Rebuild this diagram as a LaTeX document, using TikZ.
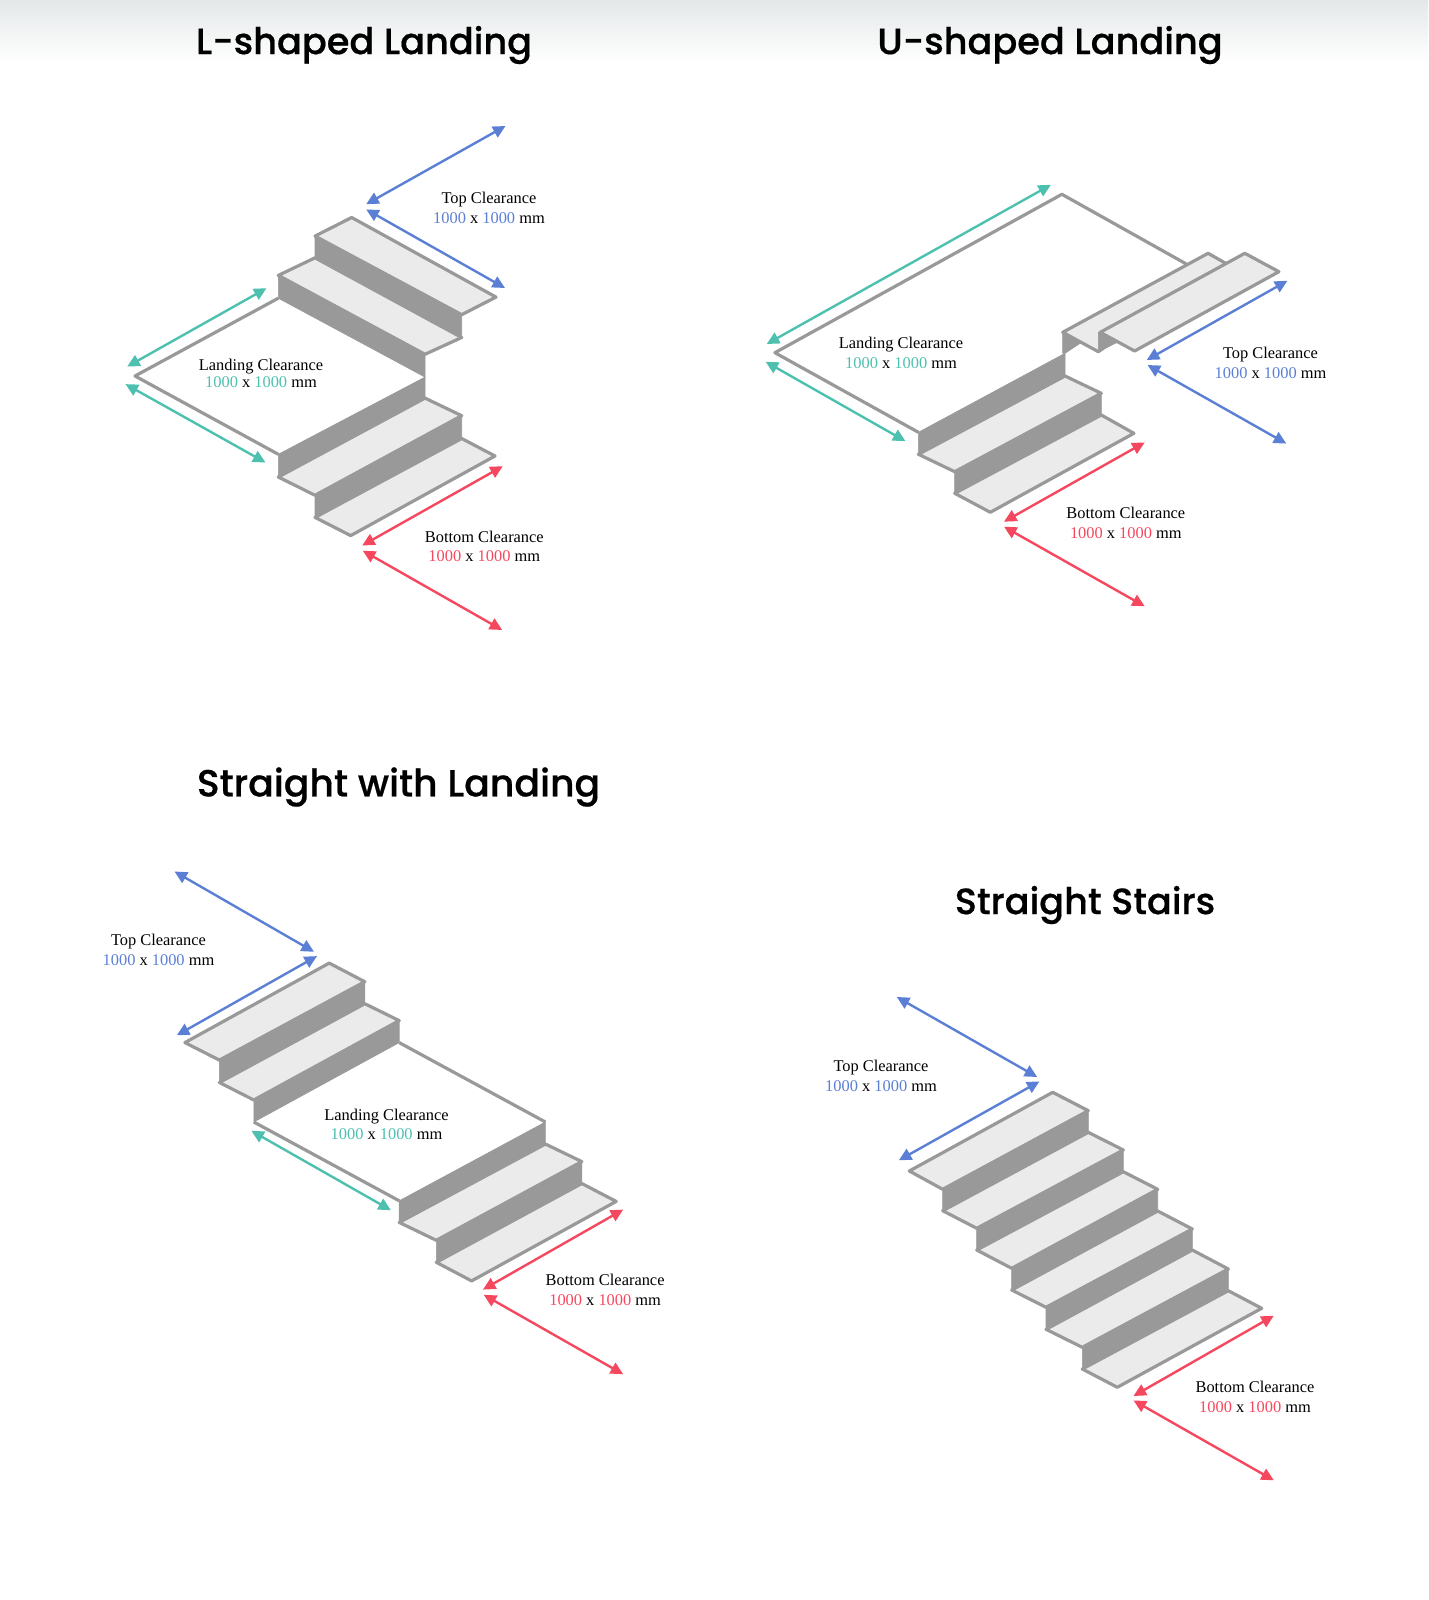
\documentclass[tikz,border=0pt]{standalone}
\usepackage{fontspec}
\setmainfont{Liberation Serif}
\newfontfamily\titlefont[FakeBold=0.5]{Poppins Medium}
\usetikzlibrary{arrows.meta}
\definecolor{stair}{HTML}{999999}
\definecolor{treadc}{HTML}{EBEBEB}
\definecolor{dimblue}{HTML}{5B7FD4}
\definecolor{dimteal}{HTML}{4DC0B0}
\definecolor{dimred}{HTML}{F5475E}
\definecolor{topband}{HTML}{E4E8E9}
\newcommand{\numc}[1]{\textcolor{#1}{1000} x \textcolor{#1}{1000} mm}
\tikzset{
  tread/.style={draw=stair,fill=treadc,line width=3.2pt,line join=round},
  riser/.style={draw=stair,fill=stair,line width=0.6pt},
  landedge/.style={draw=stair,line width=3.2pt,line join=round},
  dimarrow/.style={line width=2.4pt,{Triangle[length=12.5pt,width=12pt]}-{Triangle[length=12.5pt,width=12pt]}},
  bluea/.style={dimarrow,draw=dimblue,fill=dimblue},
  teala/.style={dimarrow,draw=dimteal,fill=dimteal},
  reda/.style={dimarrow,draw=dimred,fill=dimred},
  lbl/.style={align=center,inner sep=0pt,font=\fontsize{16.4}{19.8}\selectfont},
  ttl/.style={inner sep=0pt,font=\titlefont\fontsize{36.7}{41}\selectfont}
}
\begin{document}
\begin{tikzpicture}[x=1pt,y=-1pt]
\useasboundingbox (0,0) rectangle (1428,1600);
\shade[top color=topband,bottom color=white] (0,0) rectangle (1428,62);

% titles
\node[ttl] (t1) at (364,45) {L-shaped Landing};
\node[ttl] (t2) at (1050,45) {U-shaped Landing};
\node[ttl,font=\titlefont\fontsize{37.8}{42}\selectfont] (t3) at (398.5,787) {Straight with Landing};
\node[ttl] (t4) at (1085,905) {Straight Stairs};

% ---------- L-shaped
\filldraw[tread] (351.7,217.5)--(496,297.1)--(461.7,314.7)--(315,236.1)--cycle;
\filldraw[riser] (315,236.1)--(461.7,314.7)--(461.7,337.5)--(315,257.8)--cycle;
\filldraw[tread] (315,257.8)--(461.7,337.5)--(425,354.3)--(278.3,275.4)--cycle;
\filldraw[riser] (278.3,275.4)--(425,354.3)--(425,377.1)--(278.3,298.2)--cycle;
\draw[landedge] (278.3,298.2)--(135,376)--(278.3,454.3);
\filldraw[tread] (425,398.1)--(461.7,415.7)--(315,495.3)--(278.3,477)--cycle;
\filldraw[riser] (278.3,454.3)--(425,377.1)--(425,398.1)--(278.3,477)--cycle;
\filldraw[tread] (461.7,438.5)--(495,456)--(350.7,535.6)--(315,517.4)--cycle;
\filldraw[riser] (315,495.3)--(461.7,415.7)--(461.7,438.5)--(315,517.4)--cycle;

\coordinate (la1) at (505.5,126); \coordinate (la2) at (366.2,204.2);
\coordinate (la3) at (366.2,209.4); \coordinate (la4) at (505,288);
\coordinate (la5) at (266.5,288.2); \coordinate (la6) at (127.2,366.6);
\coordinate (la7) at (125.5,384.1); \coordinate (la8) at (265.5,462.5);
\coordinate (la9) at (502.8,466.2); \coordinate (la10) at (362.2,545.5);
\coordinate (la11) at (362.8,550.7); \coordinate (la12) at (502.2,630);
\draw[bluea] (la1)--(la2);
\draw[bluea] (la3)--(la4);
\draw[teala] (la5)--(la6);
\draw[teala] (la7)--(la8);
\draw[reda] (la9)--(la10);
\draw[reda] (la11)--(la12);
\node[lbl] (l1) at (489,207.5) {Top Clearance\\\numc{dimblue}};
\node[lbl] (l2) at (261,373.5) {Landing Clearance\\[-2.2pt]\numc{dimteal}};
\node[lbl] (l3) at (484.3,546.4) {Bottom Clearance\\\numc{dimred}};

% ---------- U-shaped
\draw[landedge] (1186.3,264)--(1061.9,194.3)--(774.9,352.7)--(918.4,432.3);
\filldraw[tread] (1208.1,253.3)--(1226,263.5)--(1098.3,351.7)--(1062.7,332.3)--cycle;
\filldraw[riser] (1062.7,332.3)--(1081,342.7)--(1065,353.3)--(1062.7,353.3)--cycle;
\filldraw[riser] (1098.3,332.3)--(1117,342.5)--(1098.3,351.7)--cycle;
\filldraw[tread] (1244.8,253.3)--(1278.9,271.7)--(1134.6,351)--(1100.2,332.3)--cycle;
\filldraw[tread] (1065,376)--(1101.3,393.3)--(954.7,471.7)--(918.4,454.3)--cycle;
\filldraw[riser] (918.4,432.3)--(1065,353.3)--(1065,376)--(918.4,454.3)--cycle;
\filldraw[tread] (1101.3,415)--(1133.9,433.3)--(990.3,512.3)--(954.7,493.3)--cycle;
\filldraw[riser] (954.7,471.7)--(1101.3,393.3)--(1101.3,415)--(954.7,493.3)--cycle;

\coordinate (ua1) at (1050.9,184.8); \coordinate (ua2) at (766.7,344);
\coordinate (ua3) at (765.6,361.7); \coordinate (ua4) at (905.5,441.2);
\coordinate (ua5) at (1287.4,280.8); \coordinate (ua6) at (1146.7,360);
\coordinate (ua7) at (1147.5,365); \coordinate (ua8) at (1286.3,443.6);
\coordinate (ua9) at (1144.7,442.4); \coordinate (ua10) at (1004,521.7);
\coordinate (ua11) at (1004,526.7); \coordinate (ua12) at (1144.7,606.3);
\draw[teala] (ua1)--(ua2);
\draw[teala] (ua3)--(ua4);
\draw[bluea] (ua5)--(ua6);
\draw[bluea] (ua7)--(ua8);
\draw[reda] (ua9)--(ua10);
\draw[reda] (ua11)--(ua12);
\node[lbl] (u1) at (901,352.5) {Landing Clearance\\\numc{dimteal}};
\node[lbl] (u2) at (1270.5,362.5) {Top Clearance\\\numc{dimblue}};
\node[lbl] (u3) at (1125.8,523.2) {Bottom Clearance\\\numc{dimred}};

% ---------- Straight with landing
\filldraw[tread] (329.2,963.1)--(364.8,981.7)--(219.4,1060.1)--(184.9,1042.6)--cycle;
\filldraw[riser] (219.4,1060.1)--(364.8,981.7)--(364.8,1003.7)--(219.4,1082.5)--cycle;
\filldraw[tread] (364.8,1003.7)--(399.2,1020.6)--(253.8,1100)--(219.4,1082.5)--cycle;
\filldraw[riser] (253.8,1100)--(399.2,1020.6)--(399.2,1042.6)--(253.8,1122)--cycle;
\draw[landedge] (399.2,1042.6)--(545.4,1122);
\draw[landedge] (253.8,1122)--(399.2,1200.8);
\filldraw[tread] (545.4,1144)--(581.8,1161.6)--(436.3,1240.3)--(399.2,1222.4)--cycle;
\filldraw[riser] (399.2,1200.8)--(545.4,1122)--(545.4,1144)--(399.2,1222.4)--cycle;
\filldraw[tread] (581.8,1183.5)--(616.2,1201.4)--(471.6,1280.9)--(436.3,1262.3)--cycle;
\filldraw[riser] (436.3,1240.3)--(581.8,1161.6)--(581.8,1183.5)--(436.3,1262.3)--cycle;

\coordinate (sa1) at (174.5,871.5); \coordinate (sa2) at (314,951.8);
\coordinate (sa3) at (317,956.1); \coordinate (sa4) at (176.8,1035.3);
\coordinate (sa5) at (251.4,1130.8); \coordinate (sa6) at (390.9,1210.2);
\coordinate (sa7) at (623.2,1209.6); \coordinate (sa8) at (482.9,1289.6);
\coordinate (sa9) at (483.7,1294.8); \coordinate (sa10) at (623.2,1374.2);
\draw[bluea] (sa1)--(sa2);
\draw[bluea] (sa3)--(sa4);
\draw[teala] (sa5)--(sa6);
\draw[reda] (sa7)--(sa8);
\draw[reda] (sa9)--(sa10);
\node[lbl] (s1) at (158.5,950) {Top Clearance\\\numc{dimblue}};
\node[lbl] (s2) at (386.5,1124.4) {Landing Clearance\\[-1.2pt]\numc{dimteal}};
\node[lbl] (s3) at (605.1,1290) {Bottom Clearance\\\numc{dimred}};

% ---------- Straight stairs
\filldraw[tread] (1052.7,1092.3)--(1088.3,1110.7)--(942.7,1189.3)--(909.3,1171)--cycle;
\filldraw[riser] (942.7,1189.3)--(1088.3,1110.7)--(1088.3,1132.3)--(942.7,1210.7)--cycle;
\filldraw[tread] (1088.3,1132.3)--(1123.3,1150)--(976.7,1228.3)--(942.7,1210.7)--cycle;
\filldraw[riser] (976.7,1228.3)--(1123.3,1150)--(1123.3,1171.7)--(976.7,1250)--cycle;
\filldraw[tread] (1123.3,1171.7)--(1157.7,1189.3)--(1011.7,1268.3)--(976.7,1250)--cycle;
\filldraw[riser] (1011.7,1268.3)--(1157.7,1189.3)--(1157.7,1211)--(1011.7,1290)--cycle;
\filldraw[tread] (1157.7,1211)--(1192.3,1229)--(1046,1307.3)--(1011.7,1290)--cycle;
\filldraw[riser] (1046,1307.3)--(1192.3,1229)--(1192.3,1250)--(1046,1329.3)--cycle;
\filldraw[tread] (1192.3,1250)--(1228.3,1269)--(1082.3,1347.3)--(1046,1329.3)--cycle;
\filldraw[riser] (1082.3,1347.3)--(1228.3,1269)--(1228.3,1290.7)--(1082.3,1369)--cycle;
\filldraw[tread] (1228.3,1290.7)--(1261.7,1308.3)--(1117.3,1387.3)--(1082.3,1369)--cycle;

\coordinate (ta1) at (896.8,997); \coordinate (ta2) at (1037.2,1077);
\coordinate (ta3) at (1039.5,1081.4); \coordinate (ta4) at (898.8,1160.3);
\coordinate (ta5) at (1273.8,1315.7); \coordinate (ta6) at (1133.5,1396);
\coordinate (ta7) at (1133.5,1400.4); \coordinate (ta8) at (1273.8,1480.3);
\draw[bluea] (ta1)--(ta2);
\draw[bluea] (ta3)--(ta4);
\draw[reda] (ta5)--(ta6);
\draw[reda] (ta7)--(ta8);
\node[lbl] (r1) at (881,1076) {Top Clearance\\\numc{dimblue}};
\node[lbl] (r2) at (1255,1396.5) {Bottom Clearance\\\numc{dimred}};
\end{tikzpicture}
\end{document}
